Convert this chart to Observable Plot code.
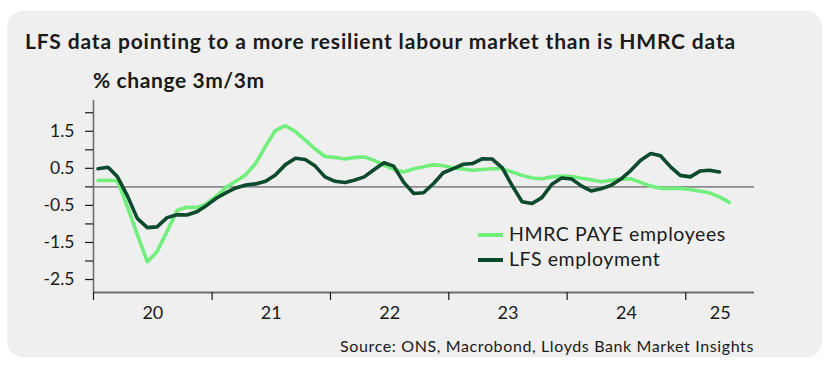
<!DOCTYPE html>
<html>
<head>
<meta charset="utf-8">
<script src="https://cdn.jsdelivr.net/npm/d3@7"></script>
<script src="https://cdn.jsdelivr.net/npm/@observablehq/plot@0.6"></script>
<style>
  html, body { margin: 0; padding: 0; background: #ffffff; }
  body { width: 833px; height: 365px; position: relative; overflow: hidden; font-family: Lato, "Open Sans", sans-serif; color: #1a1a1a; }
  #panel { position: absolute; left: 7px; top: 11px; width: 815px; height: 346px; background: #efefef; border-radius: 16px; }
  .txt { position: absolute; white-space: nowrap; line-height: 20px; }
  #title { left: 25px; top: 30.8px; font-size: 21px; letter-spacing: 0.85px; font-weight: 700; }
  #subtitle { left: 93px; top: 69.8px; font-size: 21px; letter-spacing: 0.6px; font-weight: 700; }
  #source { right: 79px; top: 335.5px; font-size: 16px; letter-spacing: 0.62px; }
  #chart { position: absolute; left: 0; top: 90px; }
  .leg { position: absolute; font-size: 19.5px; letter-spacing: 0.6px; line-height: 20px; white-space: nowrap; }
  .sw { position: absolute; width: 25px; height: 3.5px; }
</style>
</head>
<body>
<div id="panel"></div>
<div id="title" class="txt">LFS data pointing to a more resilient labour market than is HMRC data</div>
<div id="subtitle" class="txt">% change 3m/3m</div>
<div id="chart"></div>
<div class="sw" id="sw1" style="left:478px;top:233.3px;"></div>
<div class="leg" id="leg1" style="left:509px;top:224px;"></div>
<div class="sw" id="sw2" style="left:478px;top:258.3px;"></div>
<div class="leg" id="leg2" style="left:509px;top:249px;"></div>
<div id="source" class="txt">Source: ONS, Macrobond, Lloyds Bank Market Insights</div>
<script>
// ---- data (monthly, % change 3m/3m), first observation Jan 2020 ----
const startYear = 2020;
const seriesNames = ["HMRC PAYE employees", "LFS employment"];
const seriesColors = ["#72ee7c", "#0b4a2d"];
const hmrcValues = [0.17, 0.18, 0.16, -0.55, -1.28, -2.02, -1.75, -1.20, -0.63, -0.55, -0.56, -0.45,
  -0.24, 0.00, 0.15, 0.33, 0.63, 1.10, 1.52, 1.65, 1.49, 1.26, 1.02, 0.82,
  0.79, 0.75, 0.79, 0.81, 0.72, 0.58, 0.47, 0.40, 0.49, 0.54, 0.60, 0.57,
  0.51, 0.48, 0.45, 0.47, 0.49, 0.49, 0.40, 0.31, 0.24, 0.22, 0.27, 0.29,
  0.28, 0.23, 0.19, 0.14, 0.18, 0.21, 0.22, 0.12, 0.02, -0.04, -0.04, -0.04,
  -0.07, -0.12, -0.16, -0.27, -0.42];
const lfsValues = [0.49, 0.53, 0.27, -0.25, -0.85, -1.10, -1.08, -0.83, -0.75, -0.76, -0.67, -0.50,
  -0.30, -0.15, -0.03, 0.05, 0.08, 0.15, 0.32, 0.60, 0.77, 0.74, 0.56, 0.27,
  0.15, 0.12, 0.18, 0.27, 0.46, 0.65, 0.56, 0.12, -0.18, -0.16, 0.09, 0.38,
  0.49, 0.61, 0.63, 0.76, 0.75, 0.51, 0.04, -0.40, -0.45, -0.29, 0.07, 0.24,
  0.21, 0.02, -0.11, -0.05, 0.04, 0.21, 0.44, 0.72, 0.90, 0.84, 0.54, 0.31,
  0.27, 0.43, 0.45, 0.40];
const yTickValues = [-2.5, -2, -1.5, -1, -0.5, 0, 0.5, 1, 1.5, 2];
const yTickLabels = [1.5, 0.5, -0.5, -1.5, -2.5];
const yearTicks = [2020, 2021, 2022, 2023, 2024, 2025];
const yDomain = [-2.85, 2.33];

// ---- build tables ----
const monthDate = i => new Date(Date.UTC(startYear, i, 15));
const hmrc = hmrcValues.map((v, i) => ({date: monthDate(i), value: v}));
const lfs = lfsValues.map((v, i) => ({date: monthDate(i), value: v}));
const xDomain = [new Date(Date.UTC(2020, 0, 1)), new Date(Date.UTC(2025, 7, 1))];
const yearStarts = yearTicks.map(y => new Date(Date.UTC(y, 0, 1)));
// label each year in the middle of its visible span
const yearMids = yearTicks.map(y => {
  const a = new Date(Date.UTC(y, 0, 1));
  const b = new Date(Math.min(Date.UTC(y + 1, 0, 1), +xDomain[1]));
  return new Date((+a + +b) / 2);
});
const fmt = d => (d < 0 ? "-" : "") + Math.abs(d).toFixed(1);

const chart = Plot.plot({
  width: 833,
  height: 250,
  marginLeft: 93,
  marginRight: 79,
  marginTop: 10,
  marginBottom: 48,
  style: {background: "transparent", fontFamily: "Lato, 'Open Sans', sans-serif", color: "#1a1a1a", overflow: "visible"},
  x: {type: "utc", domain: xDomain, label: null},
  y: {domain: yDomain, label: null},
  marks: [
    Plot.ruleY([0], {stroke: "#8c8c8c", strokeWidth: 1.6}),
    Plot.ruleX([xDomain[0]], {stroke: "#6e6e6e", strokeWidth: 1.6}),
    Plot.ruleY([yDomain[0]], {stroke: "#6e6e6e", strokeWidth: 2}),
    Plot.axisY({ticks: yTickValues, tickSize: 8, tickPadding: 11, label: null, stroke: "#1a1a1a", strokeWidth: 1.2,
      tickFormat: d => yTickLabels.includes(d) ? fmt(d) : "", fontSize: 17.5}),
    Plot.axisX({ticks: yearStarts, tickSize: 8, label: null, stroke: "#1a1a1a", strokeWidth: 1.2, tickFormat: () => ""}),
    Plot.axisX({ticks: yearMids, tickSize: 0, tickPadding: 14, label: null, fontSize: 18,
      tickFormat: d => String(d.getUTCFullYear()).slice(2)}),
    Plot.line(hmrc, {x: "date", y: "value", stroke: seriesColors[0], strokeWidth: 3.6, strokeLinejoin: "round", strokeLinecap: "round"}),
    Plot.line(lfs, {x: "date", y: "value", stroke: seriesColors[1], strokeWidth: 3.6, strokeLinejoin: "round", strokeLinecap: "round"})
  ]
});
document.getElementById("chart").appendChild(chart);
document.getElementById("sw1").style.background = seriesColors[0];
document.getElementById("sw2").style.background = seriesColors[1];
document.getElementById("leg1").textContent = seriesNames[0];
document.getElementById("leg2").textContent = seriesNames[1];
</script>
</body>
</html>
